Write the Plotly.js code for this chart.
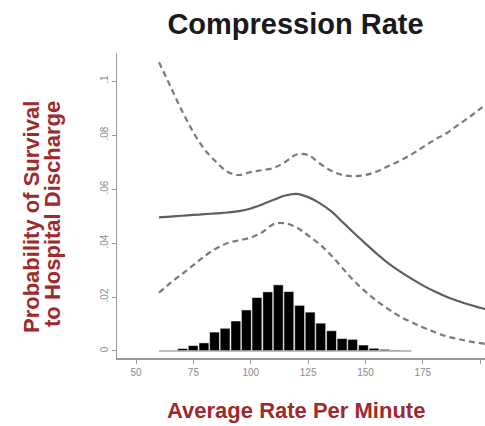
<!DOCTYPE html>
<html>
<head>
<meta charset="utf-8">
<script src="https://cdn.plot.ly/plotly-3.0.1.min.js"></script>
<style>html,body{margin:0;padding:0;background:#fff;}#chart{width:485px;height:426px;}</style>
</head>
<body>
<div id="chart"></div>
<script>
// Curve x values (average compressions per minute)
const rate = [60, 65, 70, 75, 80, 85, 90, 95, 100, 105, 110, 115, 120, 125, 130, 135, 140, 145, 150, 155, 160, 165, 170, 175, 180, 185, 190, 195, 200, 205];
// Estimated probability of survival
const probability = [0.0495, 0.0498, 0.0501, 0.0504, 0.0507, 0.0510, 0.0513, 0.0518, 0.0528, 0.0543, 0.0560, 0.0576, 0.0582, 0.0570, 0.0548, 0.0518, 0.0478, 0.0437, 0.0398, 0.0360, 0.0325, 0.0295, 0.0268, 0.0243, 0.0221, 0.0202, 0.0186, 0.0172, 0.0160, 0.0149];
// Upper 95% confidence bound
const upperCI = [0.107, 0.098, 0.089, 0.081, 0.0745, 0.0700, 0.0663, 0.0652, 0.0663, 0.0670, 0.0678, 0.0700, 0.0728, 0.0726, 0.0695, 0.0668, 0.0652, 0.0648, 0.0652, 0.0665, 0.0685, 0.0705, 0.0728, 0.0755, 0.0782, 0.0805, 0.0835, 0.0865, 0.0897, 0.0930];
// Lower 95% confidence bound
const lowerCI = [0.0216, 0.0252, 0.0285, 0.0318, 0.0352, 0.0380, 0.0400, 0.0410, 0.0420, 0.0440, 0.0470, 0.0473, 0.0458, 0.0428, 0.0396, 0.0355, 0.0307, 0.0260, 0.0220, 0.0185, 0.0155, 0.0128, 0.0107, 0.0088, 0.0070, 0.0055, 0.0045, 0.0036, 0.0029, 0.0023];
// Histogram of rates (bin centres and scaled heights)
const histBins = [70.3, 74.9, 79.6, 84.2, 88.8, 93.5, 98.1, 102.7, 107.4, 112.0, 116.6, 121.3, 125.9, 130.5, 135.2, 139.8, 144.4, 149.1, 153.7, 158.3, 163.0];
const histHeights = [0.0009, 0.0020, 0.0030, 0.0070, 0.0084, 0.0111, 0.0152, 0.0198, 0.0219, 0.0245, 0.0220, 0.0169, 0.0144, 0.0103, 0.0075, 0.0046, 0.0043, 0.0022, 0.0010, 0.0006, 0.0003];
const histSpan = [60, 170];
const xTicks = [50, 75, 100, 125, 150, 175, 200];
const yTicks = [0, 0.02, 0.04, 0.06, 0.08, 0.1];
const yTickText = ['0', '.02', '.04', '.06', '.08', '.1'];

const red = '#A0292B';
const font = 'Liberation Sans, Arial, sans-serif';

const traces = [
  {x: histSpan, y: [0, 0], type: 'scatter', mode: 'lines', line: {color: '#aaaaaa', width: 1.5}, hoverinfo: 'skip'},
  {x: histBins, y: histHeights, type: 'bar', width: 4.3, marker: {color: '#000', line: {color: '#ffffff', width: 0.5}}},
  {x: rate, y: upperCI, type: 'scatter', mode: 'lines', line: {color: '#7a7a7a', width: 2.2, dash: '6px,4px', shape: 'spline'}},
  {x: rate, y: lowerCI, type: 'scatter', mode: 'lines', line: {color: '#7a7a7a', width: 2.2, dash: '6px,4px', shape: 'spline'}},
  {x: rate, y: probability, type: 'scatter', mode: 'lines', line: {color: '#5e5e5e', width: 2.2, shape: 'spline'}}
];

const layout = {
  width: 485, height: 426,
  margin: {l: 117, r: 0, t: 53, b: 68},
  paper_bgcolor: '#fff', plot_bgcolor: '#fff',
  showlegend: false,
  title: {text: '<b>Compression Rate</b>', font: {family: font, size: 29, color: '#1a1a1a'},
          xref: 'container', x: 295.5/485, xanchor: 'center', yref: 'container', y: 1 - 24/426, yanchor: 'middle'},
  xaxis: {range: [41.7, 202.1], tickvals: xTicks, ticktext: xTicks.map(String), showgrid: false, zeroline: false,
          showline: true, linecolor: '#9a9a9a', linewidth: 1.5, ticks: 'outside', ticklen: 4, tickcolor: '#9a9a9a',
          tickfont: {family: font, size: 10, color: '#8a8a8a'}},
  yaxis: {range: [-0.0026, 0.1104], tickvals: yTicks, ticktext: yTickText, tickangle: -90, showgrid: false, zeroline: false,
          showline: true, linecolor: '#9a9a9a', linewidth: 1.5, ticks: 'outside', ticklen: 4, tickcolor: '#9a9a9a',
          tickfont: {family: font, size: 10, color: '#8a8a8a'}},
  annotations: [
    {text: '<b>Average Rate Per Minute</b>', xref: 'paper', yref: 'paper', x: (296 - 117) / 368, y: (358 - 410) / 305,
     xanchor: 'center', yanchor: 'middle', showarrow: false, font: {family: font, size: 22, color: red}},
    {text: '<b>Probability of Survival</b>', xref: 'paper', yref: 'paper', x: (31 - 117) / 368, y: (358 - 217) / 305,
     xanchor: 'center', yanchor: 'middle', textangle: -90, showarrow: false, font: {family: font, size: 22, color: red}},
    {text: '<b>to Hospital Discharge</b>', xref: 'paper', yref: 'paper', x: (52 - 117) / 368, y: (358 - 214) / 305,
     xanchor: 'center', yanchor: 'middle', textangle: -90, showarrow: false, font: {family: font, size: 22, color: red}}
  ]
};

Plotly.newPlot('chart', traces, layout, {staticPlot: true, displayModeBar: false});
</script>
</body>
</html>
